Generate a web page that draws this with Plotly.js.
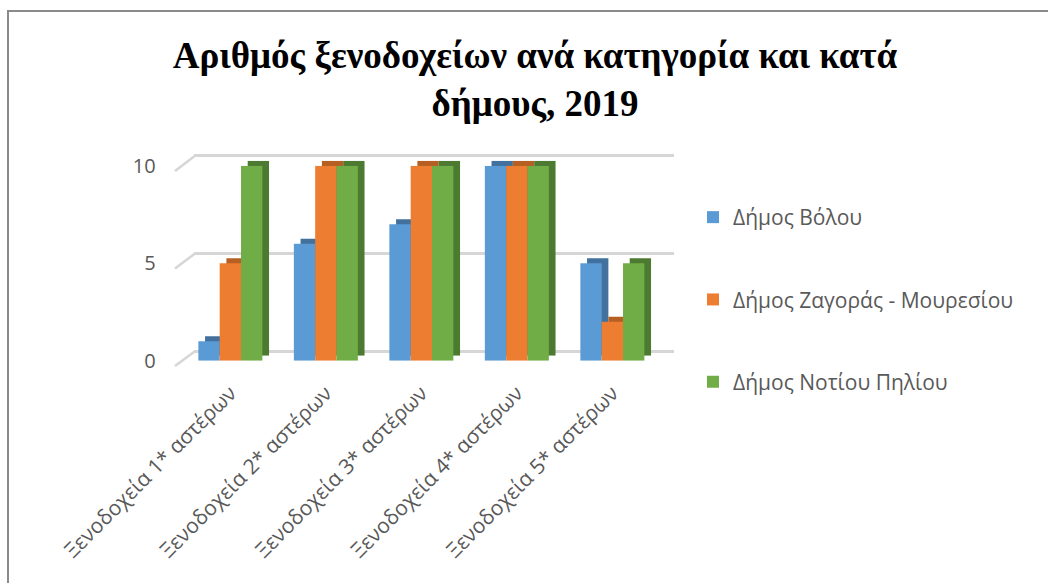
<!DOCTYPE html>
<html>
<head>
<meta charset="utf-8">
<script src="https://cdn.plot.ly/plotly-3.0.1.min.js"></script>
<style>
  body { margin: 0; background: #fff; overflow: hidden; }
  #frame {
    position: absolute; left: 7px; top: 10px;
    width: 1200px; height: 700px;
    border: 2px solid #8a8a8a;
  }
  #chart { position: absolute; left: 0; top: 0; width: 1048px; height: 583px; }
</style>
</head>
<body>
<div id="frame"></div>
<div id="chart"></div>
<script>
const categories = [
  'Ξενοδοχεία 1* αστέρων',
  'Ξενοδοχεία 2* αστέρων',
  'Ξενοδοχεία 3* αστέρων',
  'Ξενοδοχεία 4* αστέρων',
  'Ξενοδοχεία 5* αστέρων',
]
const seriesNames = ['Δήμος Βόλου', 'Δήμος Ζαγοράς - Μουρεσίου', 'Δήμος Νοτίου Πηλίου']
const volou = [1, 6, 7, 10, 5]
const zagoras = [5, 10, 10, 10, 2]
const notiouPiliou = [10, 10, 10, 10, 5]
const yTicks = [0, 5, 10]

const frontColors = ['#5B9BD5', '#ED7D31', '#70AD47']
const sideColors = ['#41719C', '#B65F22', '#4C7A30']
const seriesValues = [volou, zagoras, notiouPiliou]
const gridColor = '#d6d6d6'

const W = 1048, H = 583
const px = (x) => x / W
const py = (y) => 1 - y / H

// back wall gridlines (subplot xy, drawn first)
const gridTrace = {
  x: categories,
  y: categories.map(() => null),
  type: 'scatter',
  mode: 'markers',
  showlegend: false,
  hoverinfo: 'skip',
  xaxis: 'x', yaxis: 'y',
}

// dark depth faces (subplot x2y2), shifted up-right behind front faces
const sideTraces = seriesNames.map((name, i) => ({
  x: categories,
  y: seriesValues[i],
  name: name,
  type: 'bar',
  marker: { color: sideColors[i] },
  showlegend: false,
  hoverinfo: 'skip',
  xaxis: 'x2', yaxis: 'y2',
}))

// front faces (subplot x3y3)
const frontTraces = seriesNames.map((name, i) => ({
  x: categories,
  y: seriesValues[i],
  name: name,
  type: 'bar',
  legendgroup: 'g' + i,
  marker: { color: frontColors[i] },
  xaxis: 'x3', yaxis: 'y3',
}))

// small slanted edges of the side wall, one per gridline
const wallEdges = yTicks.map(t => ({
  type: 'line',
  xref: 'paper', yref: 'paper',
  x0: px(175), y0: py(366 - 19.5 * t),
  x1: px(195), y1: py(351.3 - 19.56 * t),
  line: { color: gridColor, width: 2.5 },
  layer: 'below',
}))

const textFont = 'Open Sans, Noto Sans, sans-serif'

const layout = {
  width: W,
  height: H,
  margin: { t: 0, b: 0, l: 0, r: 0, autoexpand: false },
  paper_bgcolor: 'rgba(0,0,0,0)',
  plot_bgcolor: 'rgba(0,0,0,0)',
  barmode: 'group',
  bargap: 0.33,
  bargroupgap: 0,
  title: {
    text: 'Αριθμός ξενοδοχείων ανά κατηγορία και κατά<br>δήμους, 2019',
    font: { family: 'Liberation Serif, Times New Roman, serif', size: 37, color: '#000', weight: 'bold' },
    xref: 'container', yref: 'container',
    x: 535 / W, xanchor: 'center',
    y: py(68), yanchor: 'top',
  },
  xaxis: {
    domain: [px(194), px(674)],
    anchor: 'y',
    visible: false,
    type: 'category',
  },
  yaxis: {
    domain: [py(357.2), py(149.8)],
    anchor: 'x',
    range: [-0.3, 10.3],
    tickvals: yTicks,
    showticklabels: false,
    showgrid: true,
    gridcolor: gridColor,
    gridwidth: 2.5,
    zeroline: false,
    showline: false,
  },
  xaxis2: {
    domain: [px(189.3), px(666.8)],
    anchor: 'y2',
    visible: false,
    type: 'category',
  },
  yaxis2: {
    domain: [py(355.7), py(160.7)],
    anchor: 'x2',
    range: [0, 10],
    visible: false,
  },
  xaxis3: {
    domain: [px(182.6), px(660.1)],
    anchor: 'y3',
    type: 'category',
    tickangle: -45,
    tickfont: { family: textFont, size: 21, color: '#595959' },
    ticklabelstandoff: 15,
    showgrid: false,
    showline: false,
    ticks: '',
  },
  yaxis3: {
    domain: [py(360.7), py(165.7)],
    anchor: 'x3',
    range: [0, 10],
    tickvals: yTicks,
    tickfont: { family: textFont, size: 20, color: '#595959' },
    showgrid: false,
    zeroline: false,
    showline: false,
    ticks: 'outside',
    ticklen: 22,
    tickcolor: 'rgba(0,0,0,0)',
  },
  shapes: wallEdges,
  showlegend: true,
  legend: {
    xref: 'container', yref: 'container',
    x: px(693), xanchor: 'left',
    y: py(197), yanchor: 'top',
    font: { family: textFont, size: 21, color: '#595959' },
    tracegroupgap: 52,
    bgcolor: 'rgba(0,0,0,0)',
  },
}

Plotly.newPlot('chart', [gridTrace, ...sideTraces, ...frontTraces], layout, { responsive: false, displayModeBar: false })
</script>
</body>
</html>
